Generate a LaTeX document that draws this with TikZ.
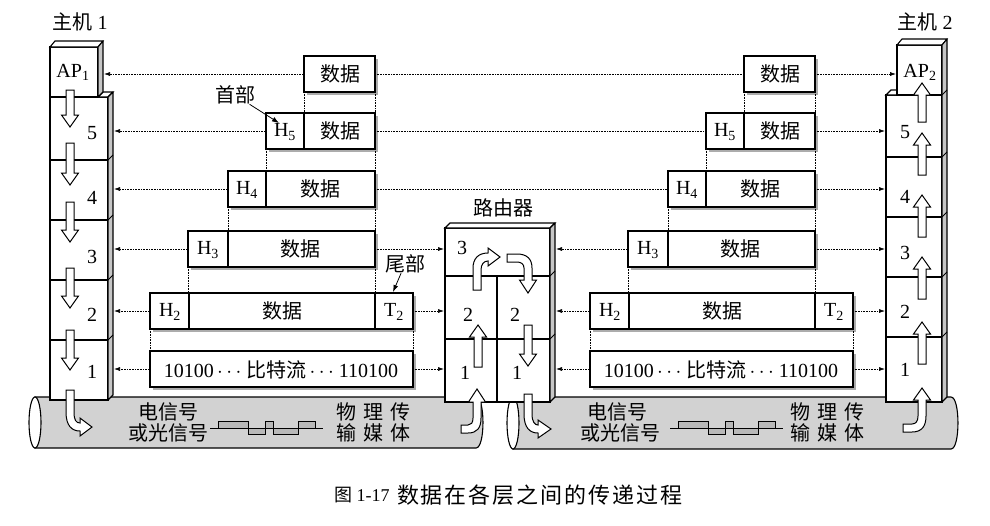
\documentclass[tikz,border=0pt]{standalone}
\usepackage{fontspec}
\setmainfont{Liberation Serif}
\newfontfamily\cjk{Noto Sans CJK SC}
\newfontfamily\cjkwide{Noto Sans CJK SC}[LetterSpace=9]
\usetikzlibrary{arrows.meta,shadows}
\newcommand\harrdown[3]{\draw[hollow] ({#1-4},#2) -- ({#1+4},#2) -- ({#1+4},{#3-12}) -- ({#1+8.5},{#3-12}) -- (#1,#3) -- ({#1-8.5},{#3-12}) -- ({#1-4},{#3-12}) -- cycle;}
\newcommand\harrup[3]{\draw[hollow] ({#1-4},#2) -- ({#1+4},#2) -- ({#1+4},{#3+12}) -- ({#1+8.5},{#3+12}) -- (#1,#3) -- ({#1-8.5},{#3+12}) -- ({#1-4},{#3+12}) -- cycle;}
\begin{document}
\begin{tikzpicture}[x=1pt,y=-1pt,
 every node/.style={inner sep=0pt, outer sep=0pt, font=\fontsize{20}{22}\selectfont},
 zh/.style={font=\fontsize{20}{22}\selectfont\cjk},
 pkt/.style={draw, fill=white, line width=1.1pt, minimum height=36pt,
   drop shadow={shadow xshift=2.5pt, shadow yshift=-2.5pt, fill=gray!65, opacity=1}},
 box/.style={draw, fill=white, line width=1.1pt},
 side/.style={draw, fill=gray!45, line width=1.1pt, line join=round},
 sep/.style={line width=1.1pt},
 hollow/.style={draw, fill=white, line width=1pt, line join=miter},
 dotline/.style={densely dotted, line width=0.6pt},
 dotarr/.style={dotline, -{Latex[length=6pt,width=4pt]}},
 lblarr/.style={line width=0.8pt, -{Latex[length=7pt,width=5pt]}},
 cyl/.style={draw, fill=gray!35, line width=1.1pt},
 wave/.style={draw, fill=gray!55, line width=0.6pt},
 ]
\useasboundingbox (0,0) rectangle (990,525);

% ---------- cylinders ----------
\draw[cyl] (35,397) -- (476,397) .. controls (485.3,397) and (485.3,448) .. (476,448) -- (35,448) -- cycle;
\draw[box] (35,422.5) ellipse [x radius=6, y radius=25.5];
\draw[cyl] (513,397) -- (951,397) .. controls (960.3,397) and (960.3,449) .. (951,449) -- (513,449) -- cycle;
\draw[box] (513,423) ellipse [x radius=6, y radius=26];

% signals and media labels
\node[zh] (sigA1) at (168,412) {电信号};
\node[zh] (sigA2) at (168,433) {或光信号};
\node[zh] (medA1) at (373,412) {物\hspace{7pt}理\hspace{7pt}传};
\node[zh] (medA2) at (373,433) {输\hspace{7pt}媒\hspace{7pt}体};
\draw[line width=0.8pt] (210,428) -- (323,428);
\draw[wave] (218,421) rectangle (248,428);
\draw[wave] (248,428) rectangle (265,434);
\draw[wave] (265,421) rectangle (273,428);
\draw[wave] (273,428) rectangle (298,434);
\draw[wave] (298,421) rectangle (315,428);

\node[zh] (sigB1) at (617,412) {电信号};
\node[zh] (sigB2) at (620,433) {或光信号};
\node[zh] (medB1) at (827,412) {物\hspace{7pt}理\hspace{7pt}传};
\node[zh] (medB2) at (827,433) {输\hspace{7pt}媒\hspace{7pt}体};
\draw[line width=0.8pt] (670,428) -- (783,428);
\draw[wave] (678,421) rectangle (708,428);
\draw[wave] (708,428) rectangle (725,434);
\draw[wave] (725,421) rectangle (733,428);
\draw[wave] (733,428) rectangle (758,434);
\draw[wave] (758,421) rectangle (775,428);

% ---------- host 1 ----------
\node (h1lbl) at (80,22) {{\cjk 主机} 1};
\draw[box] (50,97) rectangle (108,400);
\foreach \y in {160,220,280,340} \draw[sep] (50,\y) -- (108,\y);
\draw[box] (98,97) -- (103,92) -- (113,92) -- (108,97) -- cycle;
\draw[side] (108,97) -- (113,92) -- (113,395) -- (108,400) -- cycle;
\foreach \y in {160,220,280,340} \draw[line width=0.8pt] (108,\y) -- (113,{\y-5});
\draw[box] (50,47) rectangle (98,97);
\draw[box] (50,47) -- (55,41) -- (103,41) -- (98,47) -- cycle;
\draw[side] (98,47) -- (103,41) -- (103,92) -- (98,97) -- cycle;
\node (ap1) at (73,72) {AP\textsubscript{1}};
\node (h1n5) at (92,133) {5};
\node (h1n4) at (92,198) {4};
\node (h1n3) at (92,257) {3};
\node (h1n2) at (92,315) {2};
\node (h1n1) at (92,372) {1};
\harrdown{70}{90}{127}
\harrdown{70}{143}{185}
\harrdown{70}{202}{242}
\harrdown{70}{268}{308}
\harrdown{70}{330}{370}
\draw[hollow] (66,390) -- (66,412) .. controls (66,426) and (72,431) .. (80,431) -- (80,436) -- (92,427) -- (80,418) -- (80,423) .. controls (76,423) and (74,420) .. (74,412) -- (74,390) -- cycle;
\coordinate (h1ap) at (104,0);
\coordinate (h1s) at (114,0);

% ---------- host 2 ----------
\node (h2lbl) at (925,22) {{\cjk 主机} 2};
\draw[box] (886,95) rectangle (942,402);
\foreach \y in {157,217,277,337} \draw[sep] (886,\y) -- (942,\y);
\draw[box] (886,95) -- (891,90) -- (897,90) -- (897,95) -- cycle;
\draw[box] (897,45) rectangle (942,95);
\draw[box] (897,45) -- (902,39) -- (947,39) -- (942,45) -- cycle;
\draw[side] (942,45) -- (947,39) -- (947,397) -- (942,402) -- cycle;
\foreach \y in {95,157,217,277,337} \draw[line width=0.8pt] (942,\y) -- (947,{\y-5});
\node (ap2) at (920,72) {AP\textsubscript{2}};
\node (h2n5) at (905,132) {5};
\node (h2n4) at (905,197) {4};
\node (h2n3) at (905,253) {3};
\node (h2n2) at (905,312) {2};
\node (h2n1) at (905,370) {1};
\harrup{922}{122}{83}
\harrup{922}{175}{133}
\harrup{922}{237}{195}
\harrup{922}{299}{257}
\harrup{922}{364}{322}
\draw[hollow] (903,424) -- (903,432) -- (912,432) .. controls (922,432) and (926,426) .. (926,416) -- (926,400) -- (930.5,400) -- (922,388) -- (913.5,400) -- (918,400) -- (918,416) .. controls (918,421) and (916,424) .. (912,424) -- cycle;
\coordinate (h2ap) at (896,0);
\coordinate (h2s) at (885,0);

% ---------- router ----------
\node[zh] (rlbl) at (503,208) {路由器};
\draw[box] (445,228) rectangle (550,402);
\draw[sep] (445,276) -- (550,276);
\draw[sep] (445,339) -- (550,339);
\draw[sep] (497,276) -- (497,402);
\draw[box] (445,228) -- (450,223) -- (555,223) -- (550,228) -- cycle;
\draw[side] (550,228) -- (555,223) -- (555,397) -- (550,402) -- cycle;
\foreach \y in {276,339} \draw[line width=0.8pt] (550,\y) -- (555,{\y-5});
\node (r3) at (462,248) {3};
\node (r2a) at (468,315) {2};
\node (r2b) at (515,315) {2};
\node (r1a) at (465,373) {1};
\node (r1b) at (517,373) {1};
\harrup{478}{367}{325}
\harrdown{528}{325}{366}
\draw[hollow] (473,290) -- (473,268) .. controls (473,259) and (478,253) .. (488,253) -- (488,248) -- (500,257) -- (488,266) -- (488,261) .. controls (484,261) and (481,264) .. (481,270) -- (481,290) -- cycle;
\draw[hollow] (507,254) -- (517,254) .. controls (527,254) and (532,259) .. (532,268) -- (532,280) -- (536.5,280) -- (528,293) -- (519.5,280) -- (524,280) -- (524,268) .. controls (524,264) and (521,262) .. (517,262) -- (507,262) -- cycle;
\draw[hollow] (461,425) -- (461,433) -- (468,433) .. controls (477,433) and (481,428) .. (481,418) -- (481,402) -- (485.5,402) -- (477,389) -- (468.5,402) -- (473,402) -- (473,418) .. controls (473,423) and (471,425) .. (468,425) -- cycle;
\draw[hollow] (524,394) -- (524,414) .. controls (524,428) and (530,433) .. (538,433) -- (538,438) -- (551,429) -- (538,420) -- (538,425) .. controls (535,425) and (532,422) .. (532,414) -- (532,394) -- cycle;
\coordinate (rtl) at (444,0);
\coordinate (rtr) at (556,0);

% ---------- packets, left ----------
\node[pkt, minimum width=71pt] (LA) at (339.5,74) {};
\node[pkt, minimum width=109pt] (L5) at (320.5,131) {};
\node[pkt, minimum width=147pt] (L4) at (301.5,189) {};
\node[pkt, minimum width=187pt] (L3) at (281.5,249) {};
\node[pkt, minimum width=263pt] (L2) at (281.5,311) {};
\node[pkt, minimum width=263pt] (L1) at (281.5,369) {};
\draw[sep] (304,113) -- (304,149);
\draw[sep] (266,171) -- (266,207);
\draw[sep] (228,231) -- (228,267);
\draw[sep] (189,293) -- (189,329);
\draw[sep] (375,293) -- (375,329);
\node[zh] (tLA) at (340,74) {数据};
\node (tL5h) at (285,132) {H\textsubscript{5}};
\node[zh] (tL5) at (340,131) {数据};
\node (tL4h) at (247,190) {H\textsubscript{4}};
\node[zh] (tL4) at (320,189) {数据};
\node (tL3h) at (208,250) {H\textsubscript{3}};
\node[zh] (tL3) at (300,249) {数据};
\node (tL2h) at (170,312) {H\textsubscript{2}};
\node[zh] (tL2) at (282,311) {数据};
\node (tL2t) at (394,312) {T\textsubscript{2}};
\node (tL1) at (281,370) {10100\,$\cdots$\ {\cjk 比特流}\,$\cdots$\ 110100};

% ---------- packets, right ----------
\node[pkt, minimum width=71pt] (RA) at (779.5,74) {};
\node[pkt, minimum width=109pt] (R5) at (760.5,131) {};
\node[pkt, minimum width=147pt] (R4) at (741.5,189) {};
\node[pkt, minimum width=187pt] (R3) at (721.5,249) {};
\node[pkt, minimum width=263pt] (R2) at (721.5,311) {};
\node[pkt, minimum width=263pt] (R1) at (721.5,369) {};
\draw[sep] (744,113) -- (744,149);
\draw[sep] (706,171) -- (706,207);
\draw[sep] (668,231) -- (668,267);
\draw[sep] (629,293) -- (629,329);
\draw[sep] (815,293) -- (815,329);
\node[zh] (tRA) at (780,74) {数据};
\node (tR5h) at (725,132) {H\textsubscript{5}};
\node[zh] (tR5) at (780,131) {数据};
\node (tR4h) at (687,190) {H\textsubscript{4}};
\node[zh] (tR4) at (760,189) {数据};
\node (tR3h) at (648,250) {H\textsubscript{3}};
\node[zh] (tR3) at (740,249) {数据};
\node (tR2h) at (610,312) {H\textsubscript{2}};
\node[zh] (tR2) at (722,311) {数据};
\node (tR2t) at (834,312) {T\textsubscript{2}};
\node (tR1) at (721,370) {10100\,$\cdots$\ {\cjk 比特流}\,$\cdots$\ 110100};

% ---------- dotted connectors ----------
\draw[dotarr] (LA.west) -- (LA.west -| h1ap);
\foreach \n in {L5,L4,L3,L2,L1} \draw[dotarr] (\n.west) -- (\n.west -| h1s);
\draw[dotline] (LA.east) -- (RA.west);
\draw[dotline] (L5.east) -- (R5.west);
\draw[dotline] (L4.east) -- (R4.west);
\foreach \n in {L3,L2,L1} \draw[dotarr] (\n.east) -- (\n.east -| rtl);
\foreach \n in {R3,R2,R1} \draw[dotarr] (\n.west) -- (\n.west -| rtr);
\draw[dotarr] (RA.east) -- (RA.east -| h2ap);
\foreach \n in {R5,R4,R3,R2,R1} \draw[dotarr] (\n.east) -- (\n.east -| h2s);
% vertical dotted guides
\foreach \s in {L,R} {
  \draw[dotline] (\s A.south west) -- (\s A.south west |- \s5.north);
  \draw[dotline] (\s A.south east) -- (\s A.south east |- \s5.north);
  \draw[dotline] (\s5.south west) -- (\s5.south west |- \s4.north);
  \draw[dotline] (\s5.south east) -- (\s5.south east |- \s4.north);
  \draw[dotline] (\s4.south west) -- (\s4.south west |- \s3.north);
  \draw[dotline] (\s4.south east) -- (\s4.south east |- \s3.north);
  \draw[dotline] (\s3.south west) -- (\s3.south west |- \s2.north);
  \draw[dotline] (\s3.south east) -- (\s3.south east |- \s2.north);
  \draw[dotline] (\s2.south west) -- (\s1.north west);
  \draw[dotline] (\s2.south east) -- (\s1.north east);
}

% ---------- header / trailer labels ----------
\node[zh] (shoubu) at (235,95) {首部};
\coordinate (h5tip) at (279,123);
\draw[lblarr] (shoubu) -- (h5tip);
\node[zh] (weibu) at (405,264) {尾部};
\coordinate (t2tip) at (393,292);
\draw[lblarr] (weibu) -- (t2tip);

% ---------- caption ----------
\node[font=\fontsize{18}{22}\selectfont] (cap1) at (362,495) {{\cjk 图}\hspace{4pt}1-17};
\node[anchor=west, font=\fontsize{22}{24}\selectfont\cjkwide] (cap2) at (397,495) {数据在各层之间的传递过程};
\end{tikzpicture}
\end{document}
